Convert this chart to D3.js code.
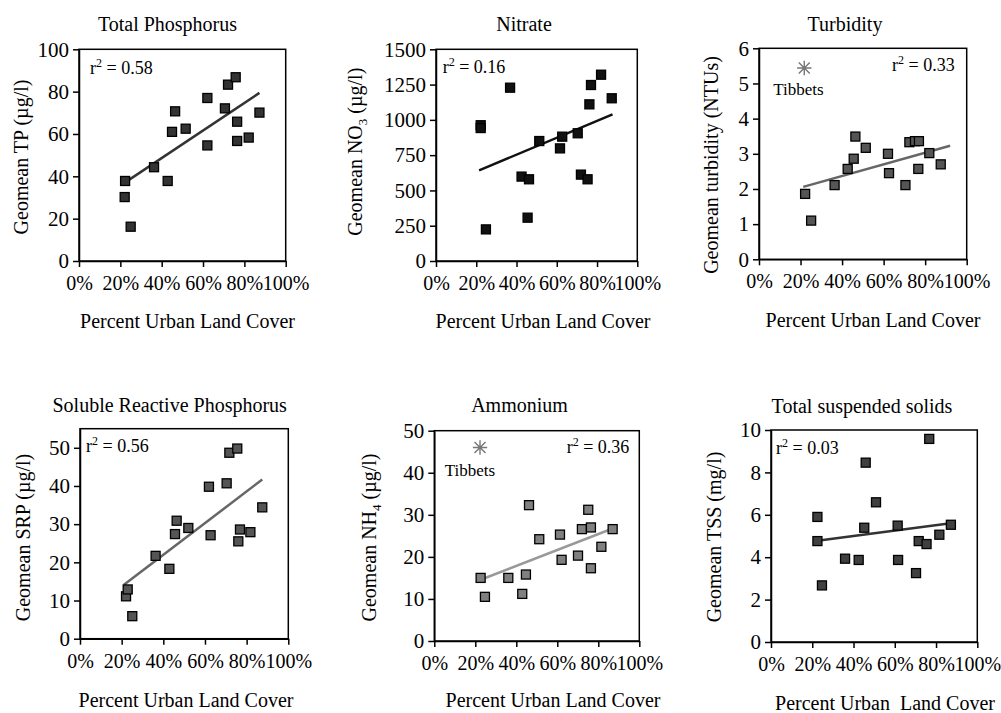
<!DOCTYPE html>
<html>
<head>
<meta charset="utf-8">
<script src="https://cdn.jsdelivr.net/npm/d3@7"></script>
<style>
  body { margin: 0; background: #fff; }
  svg, svg text { font-family: "Liberation Serif", "Times New Roman", serif !important; }
</style>
</head>
<body>
<div id="chart"></div>
<script>
// ---- data (x = percent urban land cover) ----
const urbanTP  = [22.3, 22.1, 25.0, 36.3, 42.9, 45.0, 46.5, 51.6, 62.1, 62.1, 70.6, 72.1, 75.8, 76.5, 76.5, 82.1, 87.3];
const tpValues = [37.8, 30.2, 16.2, 44.3, 37.8, 61.0, 70.7, 62.5, 77.0, 54.6, 72.1, 83.3, 86.8, 65.8, 56.7, 58.3, 70.1];
const tpTrend  = [[22.0, 36.9], [87.3, 79.4]];

const urbanNO3  = [22.2, 22.2, 24.8, 36.8, 42.5, 45.5, 46.2, 51.3, 61.6, 62.7, 70.4, 72.0, 75.3, 76.2, 77.0, 82.0, 87.3];
const no3Values = [962, 942, 224, 1228, 598, 307, 579, 850, 798, 881, 905, 612, 579, 1110, 1247, 1320, 1153];
const no3Trend  = [[21.4, 642], [87.7, 1039]];

const urbanTurb  = [22.2, 25.1, 36.4, 42.7, 45.6, 46.4, 51.4, 62.1, 62.6, 70.5, 72.4, 75.1, 77.0, 76.7, 82.0, 87.5];
const turbValues = [1.86, 1.10, 2.11, 2.57, 2.86, 3.49, 3.17, 3.00, 2.45, 2.11, 3.33, 3.36, 3.36, 2.57, 3.02, 2.70];
const turbTrend  = [[21.3, 2.06], [92.0, 3.23]];
const turbOutlier = [21.8, 5.44];

const urbanSRP  = [22.1, 22.9, 25.1, 36.3, 42.9, 45.6, 46.4, 52.0, 61.9, 62.7, 70.4, 71.7, 75.5, 76.0, 76.8, 81.8, 87.5];
const srpValues = [11.1, 12.9, 5.9, 21.7, 18.3, 27.4, 30.9, 29.0, 39.8, 27.1, 40.7, 48.7, 49.8, 25.5, 28.6, 27.9, 34.4];
const srpTrend  = [[21.1, 14.1], [87.5, 41.7]];

const urbanNH4  = [22.6, 24.7, 36.1, 42.9, 44.7, 46.2, 51.2, 61.3, 62.1, 70.1, 72.0, 75.1, 76.4, 76.4, 81.5, 87.0];
const nh4Values = [15.0, 10.5, 15.0, 11.2, 15.8, 32.3, 24.2, 25.3, 19.3, 20.3, 26.6, 31.2, 27.0, 17.3, 22.4, 26.6];
const nh4Trend  = [[22.3, 14.5], [87.3, 26.8]];
const nh4Outlier = [22.3, 46.0];

const urbanTSS  = [22.5, 22.5, 24.7, 35.9, 42.5, 45.2, 45.9, 50.9, 61.4, 61.6, 70.3, 71.6, 75.4, 76.7, 81.6, 87.2];
const tssValues = [5.90, 4.76, 2.67, 3.93, 3.87, 5.39, 8.46, 6.59, 5.49, 3.87, 3.25, 4.76, 4.62, 9.58, 5.06, 5.53];
const tssTrend  = [[21.5, 4.76], [88.0, 5.61]];

const xTicks    = [0, 20, 40, 60, 80, 100];
const tpTicks   = [0, 20, 40, 60, 80, 100];
const no3Ticks  = [0, 250, 500, 750, 1000, 1250, 1500];
const turbTicks = [0, 1, 2, 3, 4, 5, 6];
const srpTicks  = [0, 10, 20, 30, 40, 50];
const nh4Ticks  = [0, 10, 20, 30, 40, 50];
const tssTicks  = [0, 2, 4, 6, 8, 10];

// ---- panel setup ----
const panels = [
  { title: "Total Phosphorus", xs: urbanTP, ys: tpValues, trend: tpTrend, ticks: tpTicks, yMax: 100,
    ylab: ["Geomean TP (µg/l)", "", ""], r2: "0.58", r2Anchor: "start",
    fill: "#333", line: "#333",
    frame: [79, 49.3, 285.7, 261], titleAt: [167.5, 31], xLabAt: [187.5, 328], yLabAt: [27.7, 157], r2At: [90, 74] },
  { title: "Nitrate", xs: urbanNO3, ys: no3Values, trend: no3Trend, ticks: no3Ticks, yMax: 1500,
    ylab: ["Geomean NO", "3", " (µg/l)"], r2: "0.16", r2Anchor: "start",
    fill: "#111", line: "#111",
    frame: [436, 49.3, 637.3, 261], titleAt: [524, 31], xLabAt: [543, 328], yLabAt: [362, 151.7], r2At: [442.7, 72.7] },
  { title: "Turbidity", xs: urbanTurb, ys: turbValues, trend: turbTrend, ticks: turbTicks, yMax: 6,
    ylab: ["Geomean turbidity (NTUs)", "", ""], r2: "0.33", r2Anchor: "end",
    fill: "#555", line: "#666", outlier: turbOutlier, outlierLabelAt: [798.5, 95],
    frame: [759, 48.3, 966.7, 259.3], titleAt: [845, 31], xLabAt: [873, 327], yLabAt: [718, 165], r2At: [954.7, 71] },
  { title: "Soluble Reactive Phosphorus", xs: urbanSRP, ys: srpValues, trend: srpTrend, ticks: srpTicks, yMax: 55,
    ylab: ["Geomean SRP (µg/l)", "", ""], r2: "0.56", r2Anchor: "start",
    fill: "#555", line: "#666",
    frame: [80, 428.7, 288.3, 638.7], titleAt: [169.7, 412], xLabAt: [186, 707], yLabAt: [30, 537.5], r2At: [86, 452.3] },
  { title: "Ammonium", xs: urbanNH4, ys: nh4Values, trend: nh4Trend, ticks: nh4Ticks, yMax: 50,
    ylab: ["Geomean NH", "4", " (µg/l)"], r2: "0.36", r2Anchor: "end",
    fill: "#808080", line: "#999", outlier: nh4Outlier, outlierLabelAt: [470, 476],
    frame: [434.3, 430.7, 639.3, 641], titleAt: [519.5, 412], xLabAt: [553, 707], yLabAt: [375.7, 537.5], r2At: [629.3, 452.7] },
  { title: "Total suspended solids", xs: urbanTSS, ys: tssValues, trend: tssTrend, ticks: tssTicks, yMax: 10,
    ylab: ["Geomean TSS (mg/l)", "", ""], r2: "0.03", r2Anchor: "start",
    fill: "#404040", line: "#333",
    frame: [771, 430, 977.3, 642], titleAt: [862, 413], xLabAt: [885, 710], yLabAt: [721, 537], r2At: [776, 454.3] }
];

const svg = d3.select("#chart").append("svg")
  .attr("width", 1001)
  .attr("height", 713);

const sq = 9;  // marker size

panels.forEach(p => {
  const [x0, y0, x1, y1] = p.frame;
  const x = d3.scaleLinear().domain([0, 100]).range([x0, x1]);
  const y = d3.scaleLinear().domain([0, p.yMax]).range([y1, y0]);
  const g = svg.append("g");

  // plot border
  g.append("rect")
    .attr("x", x0).attr("y", y0)
    .attr("width", x1 - x0).attr("height", y1 - y0)
    .attr("fill", "none").attr("stroke", "#000").attr("stroke-width", 1.5);

  // axes
  const xa = g.append("g")
    .attr("transform", `translate(0,${y1})`)
    .call(d3.axisBottom(x).tickValues(xTicks).tickSize(6).tickSizeOuter(0).tickPadding(9)
      .tickFormat(d => d + "%"));
  const ya = g.append("g")
    .attr("transform", `translate(${x0},0)`)
    .call(d3.axisLeft(y).tickValues(p.ticks).tickSize(6).tickSizeOuter(0).tickPadding(4)
      .tickFormat(d => String(d)));
  [xa, ya].forEach(a => {
    a.attr("font-family", null);
    a.select(".domain").attr("stroke", "#000").attr("stroke-width", 1.5);
    a.selectAll(".tick line").attr("stroke", "#000").attr("stroke-width", 1.5);
    a.selectAll("text").attr("fill", "#000");
  });
  xa.selectAll("text").style("font-size", "20px");
  ya.selectAll("text").style("font-size", "21px");

  // trend line
  g.append("path")
    .datum(p.trend)
    .attr("d", d3.line().x(d => x(d[0])).y(d => y(d[1])))
    .attr("fill", "none").attr("stroke", p.line).attr("stroke-width", 2.5);

  // points
  g.selectAll("rect.pt")
    .data(p.xs.map((v, i) => [v, p.ys[i]]))
    .enter().append("rect")
    .attr("class", "pt")
    .attr("x", d => x(d[0]) - sq / 2)
    .attr("y", d => y(d[1]) - sq / 2)
    .attr("width", sq).attr("height", sq)
    .attr("fill", p.fill).attr("stroke", "#000").attr("stroke-width", 1.3);

  // Tibbets outlier (star)
  if (p.outlier) {
    const s = 5.5;
    g.append("path")
      .attr("transform", `translate(${x(p.outlier[0])},${y(p.outlier[1])})`)
      .attr("d", `M${-s},${-s}L${s},${s}M${-s},${s}L${s},${-s}M0,${-s * 1.3}L0,${s * 1.3}M${-s * 1.3},0L${s * 1.3},0`)
      .attr("stroke", "#777").attr("stroke-width", 1.4).attr("fill", "none");
    g.append("text")
      .attr("x", p.outlierLabelAt[0]).attr("y", p.outlierLabelAt[1])
      .attr("text-anchor", "middle").style("font-size", "17px")
      .text("Tibbets");
  }

  // title
  g.append("text")
    .attr("x", p.titleAt[0]).attr("y", p.titleAt[1])
    .attr("text-anchor", "middle").style("font-size", "20px")
    .text(p.title);

  // x label
  g.append("text")
    .attr("x", p.xLabAt[0]).attr("y", p.xLabAt[1])
    .attr("text-anchor", "middle").style("font-size", "20px")
    .style("white-space", "pre")
    .text(p.title === "Total suspended solids" ? "Percent Urban  Land Cover" : "Percent Urban Land Cover");

  // y label (rotated, optional subscript)
  const yl = g.append("text")
    .attr("transform", `translate(${p.yLabAt[0]},${p.yLabAt[1]}) rotate(-90)`)
    .attr("text-anchor", "middle").style("font-size", "20px");
  yl.append("tspan").text(p.ylab[0]);
  if (p.ylab[1]) {
    yl.append("tspan").attr("dy", 5).style("font-size", "13px").text(p.ylab[1]);
    yl.append("tspan").attr("dy", -5).text(p.ylab[2]);
  }

  // r-squared
  const rt = g.append("text")
    .attr("x", p.r2At[0]).attr("y", p.r2At[1])
    .attr("text-anchor", p.r2Anchor).style("font-size", "18px");
  rt.append("tspan").text("r");
  rt.append("tspan").attr("dy", -7).style("font-size", "12px").text("2");
  rt.append("tspan").attr("dy", 7).text(" = " + p.r2);
});
</script>
</body>
</html>
